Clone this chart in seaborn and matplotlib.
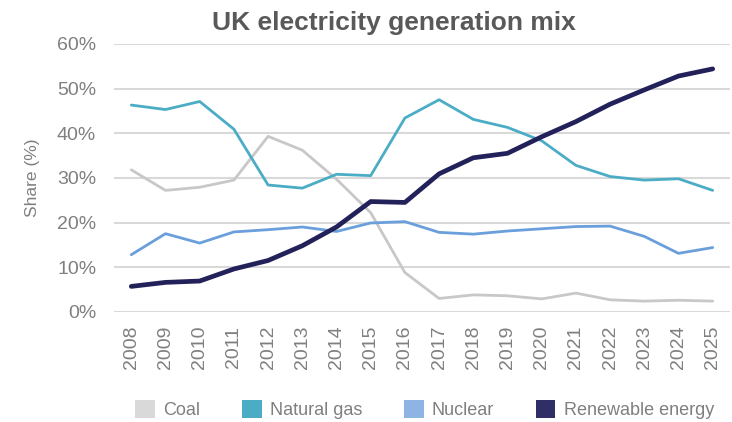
import matplotlib
matplotlib.use("Agg")
import matplotlib.pyplot as plt
from matplotlib.patches import Patch
from matplotlib.ticker import PercentFormatter
import seaborn as sns
import pandas as pd

years = list(range(2008, 2026))
coal = [31.8, 27.2, 27.9, 29.5, 39.3, 36.2, 29.7, 22.2, 8.8, 3.0, 3.8, 3.6, 2.9, 4.2, 2.7, 2.4, 2.6, 2.4]
natural_gas = [46.3, 45.3, 47.1, 40.9, 28.4, 27.7, 30.8, 30.5, 43.4, 47.5, 43.1, 41.3, 38.3, 32.8, 30.3, 29.5, 29.8, 27.2]
nuclear = [12.8, 17.5, 15.4, 17.9, 18.4, 19.0, 18.0, 19.9, 20.2, 17.8, 17.4, 18.1, 18.6, 19.1, 19.2, 16.9, 13.1, 14.4]
renewable = [5.7, 6.6, 6.9, 9.6, 11.5, 14.8, 19.0, 24.7, 24.5, 30.9, 34.5, 35.5, 39.2, 42.6, 46.5, 49.7, 52.8, 54.4]

series_names = ["Coal", "Natural gas", "Nuclear", "Renewable energy"]
line_colors = ["#c8c8c8", "#4bacc6", "#6a9fdb", "#23215a"]
patch_colors = ["#d9d9d9", "#4bacc6", "#8eb4e3", "#2f2f66"]
line_widths = [2.0, 2.0, 2.0, 3.4]

sns.set_theme(style="white")
plt.rcParams["font.family"] = ["Liberation Sans", "DejaVu Sans"]

df = pd.DataFrame({"Year": years, "Coal": coal, "Natural gas": natural_gas,
                   "Nuclear": nuclear, "Renewable energy": renewable})

fig = plt.figure(figsize=(7.32, 4.22), dpi=100)
ax = fig.add_axes([0.156, 0.261, 0.841, 0.635])

for name, c, lw in zip(series_names, line_colors, line_widths):
    sns.lineplot(data=df, x="Year", y=name, ax=ax, color=c, linewidth=lw,
                 solid_capstyle="round", solid_joinstyle="round", legend=False)

ax.set_xlim(2007.5, 2025.5)
ax.set_ylim(0, 60)
ax.set_yticks(range(0, 61, 10))
ax.yaxis.set_major_formatter(PercentFormatter(decimals=0))
ax.set_xticks(years)
ax.set_xticklabels([str(y) for y in years], rotation=90)
ax.tick_params(axis="both", colors="#7f7f7f", labelsize=14, length=0)
ax.tick_params(axis="x", pad=10)
ax.tick_params(axis="y", pad=13)
ax.grid(axis="y", color="#d9d9d9", linewidth=1.5)
ax.grid(axis="x", visible=False)
ax.set_axisbelow(True)
for s in ax.spines.values():
    s.set_visible(False)

ax.set_xlabel("")
ax.set_ylabel("Share (%)", color="#7f7f7f", fontsize=12.5, labelpad=12)

fig.suptitle("UK electricity generation mix", x=0.538, y=0.975, fontsize=19,
             fontweight="bold", color="#595959")

handles = [Patch(facecolor=c, edgecolor="none", label=n) for n, c in zip(series_names, patch_colors)]
fig.legend(handles=handles, loc="lower center", bbox_to_anchor=(0.58, -0.032), ncol=4,
           frameon=False, fontsize=13, labelcolor="#7f7f7f", handlelength=1.1,
           handleheight=1.1, handletextpad=0.45, columnspacing=2.3)

fig.savefig("out.png", dpi=100)
